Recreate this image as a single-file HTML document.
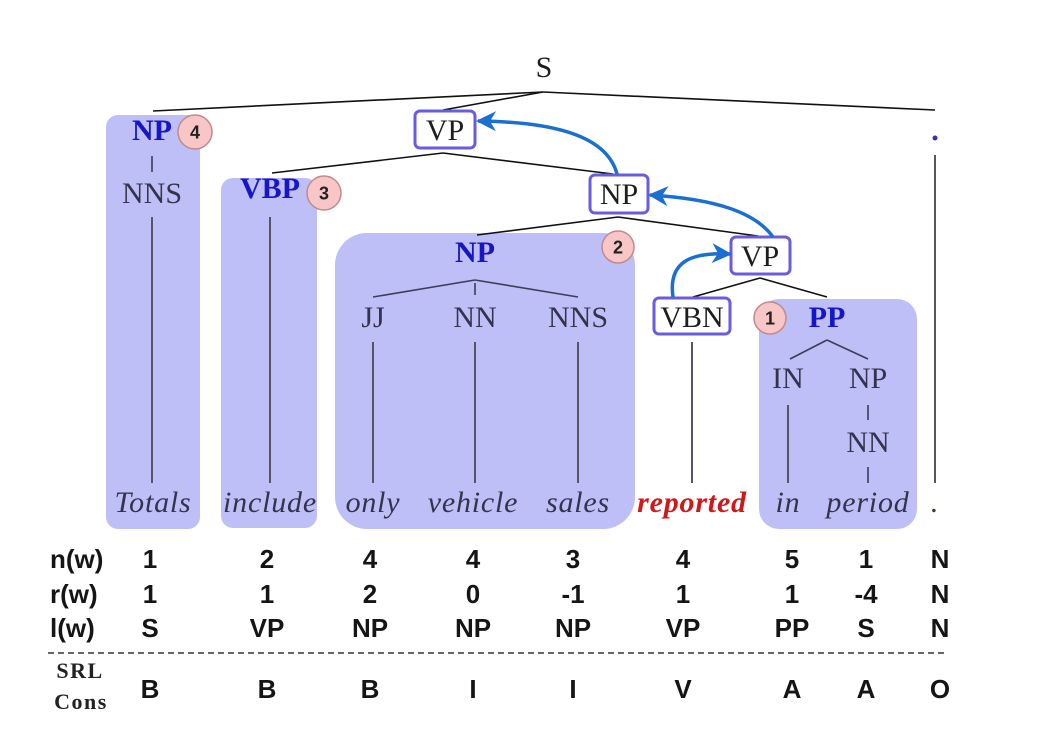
<!DOCTYPE html>
<html>
<head>
<meta charset="utf-8">
<style>
html,body{margin:0;padding:0;background:#fff;}
svg{display:block;}
.lab{font-family:"Liberation Serif",serif;font-size:30px;fill:#33334d;text-anchor:middle;}
.dlab{font-family:"Liberation Serif",serif;font-size:30px;fill:#1e1e1e;text-anchor:middle;}
.blab{font-family:"Liberation Serif",serif;font-size:30px;fill:#1616c8;font-weight:bold;text-anchor:middle;}
.wd{font-family:"Liberation Serif",serif;font-size:30px;font-style:italic;fill:#33334d;text-anchor:middle;letter-spacing:0.8px;}
.tb{font-family:"Liberation Sans",sans-serif;font-size:26px;font-weight:bold;fill:#151515;text-anchor:middle;}
.tl{font-family:"Liberation Sans",sans-serif;font-size:26px;font-weight:bold;fill:#151515;}
.num{font-family:"Liberation Sans",sans-serif;font-size:18px;font-weight:bold;fill:#222;text-anchor:middle;}
</style>
</head>
<body>
<svg width="1037" height="750" viewBox="0 0 1037 750" xmlns="http://www.w3.org/2000/svg">
<defs>
<marker id="ah" markerUnits="userSpaceOnUse" markerWidth="22" markerHeight="22" refX="18" refY="10" orient="auto">
<path d="M0,0 L20,10 L0,20 L6,10 z" fill="#1a6fd0"/>
</marker>
</defs>

<!-- shaded regions -->
<rect x="106" y="115" width="94" height="414" rx="12" fill="#bfbff7"/>
<rect x="221" y="178" width="96" height="350" rx="12" fill="#bfbff7"/>
<rect x="335" y="233" width="300" height="296" rx="32" fill="#bfbff7"/>
<rect x="759" y="299" width="158" height="230" rx="20" fill="#bfbff7"/>

<!-- top tree lines -->
<g stroke="#111" stroke-width="1.6" fill="none">
<line x1="543" y1="92" x2="153" y2="111"/>
<line x1="543" y1="92" x2="443" y2="110"/>
<line x1="543" y1="92" x2="935" y2="110"/>
<line x1="443" y1="153" x2="272" y2="173"/>
<line x1="443" y1="153" x2="613" y2="174"/>
<line x1="618" y1="217" x2="477" y2="235"/>
<line x1="618" y1="217" x2="758" y2="236"/>
<line x1="760" y1="278" x2="693" y2="297"/>
<line x1="760" y1="278" x2="827" y2="297"/>
</g>
<!-- inner lines -->
<g stroke="#3c3c5c" stroke-width="1.6" fill="none">
<line x1="475" y1="280" x2="373" y2="297"/>
<line x1="475" y1="280" x2="578" y2="297"/>
<line x1="475" y1="283" x2="475" y2="295"/>
<line x1="827" y1="340" x2="790" y2="359"/>
<line x1="827" y1="340" x2="868" y2="359"/>
<line x1="152" y1="156" x2="152" y2="172"/>
<line x1="868" y1="405" x2="868" y2="420"/>
<line x1="868" y1="467" x2="868" y2="483"/>
</g>
<g stroke="#555566" stroke-width="2" fill="none">
<line x1="152" y1="217" x2="152" y2="483"/>
<line x1="270" y1="217" x2="270" y2="483"/>
<line x1="373" y1="342" x2="373" y2="483"/>
<line x1="475" y1="342" x2="475" y2="483"/>
<line x1="578" y1="342" x2="578" y2="483"/>
<line x1="692" y1="342" x2="692" y2="483"/>
<line x1="788" y1="405" x2="788" y2="483"/>
<line x1="935" y1="155" x2="935" y2="483"/>
</g>
<circle cx="935" cy="138" r="2.5" fill="#3030c0"/>

<!-- node boxes -->
<g fill="#fff" stroke="#6a5ce0" stroke-width="3">
<rect x="415" y="111" width="60" height="37" rx="5"/>
<rect x="590" y="175" width="58" height="38" rx="5"/>
<rect x="731" y="237" width="59" height="37" rx="5"/>
<rect x="654" y="298" width="76" height="36" rx="5"/>
</g>

<!-- arrows -->
<g stroke="#1a6fd0" stroke-width="3.5" fill="none" marker-end="url(#ah)">
<path d="M617,174 C608,140 565,122 478,121"/>
<path d="M773,237 C755,212 715,199 650,195"/>
<path d="M673,297 C668,262 690,252 730,254"/>
</g>

<!-- circles -->
<g fill="#f8c6c6" stroke="#c08a8a" stroke-width="1.5">
<circle cx="195" cy="132" r="17"/>
<circle cx="324" cy="193" r="17"/>
<circle cx="618" cy="247" r="16"/>
<circle cx="770" cy="318" r="16"/>
</g>
<text class="num" x="195" y="138.5">4</text>
<text class="num" x="324" y="199.5">3</text>
<text class="num" x="618" y="253.5">2</text>
<text class="num" x="770" y="324.5">1</text>

<!-- labels -->
<text class="dlab" x="544" y="77">S</text>
<text class="blab" x="152" y="140">NP</text>
<text class="lab" x="152" y="203">NNS</text>
<text class="dlab" x="445" y="140">VP</text>
<text class="blab" x="270" y="198">VBP</text>
<text class="dlab" x="619" y="204">NP</text>
<text class="blab" x="475" y="262">NP</text>
<text class="dlab" x="760" y="266">VP</text>
<text class="lab" x="373" y="327">JJ</text>
<text class="lab" x="475" y="327">NN</text>
<text class="lab" x="578" y="327">NNS</text>
<text class="dlab" x="692" y="327">VBN</text>
<text class="blab" x="827" y="327">PP</text>
<text class="lab" x="788" y="388">IN</text>
<text class="lab" x="868" y="388">NP</text>
<text class="lab" x="868" y="452">NN</text>

<!-- words -->
<text class="wd" x="153" y="512">Totals</text>
<text class="wd" x="270" y="512">include</text>
<text class="wd" x="373" y="512">only</text>
<text class="wd" x="473" y="512">vehicle</text>
<text class="wd" x="578" y="512">sales</text>
<text class="wd" x="692" y="512" style="fill:#d01818;font-weight:bold;">reported</text>
<text class="wd" x="788" y="512">in</text>
<text class="wd" x="868" y="512">period</text>
<text class="wd" x="935" y="512">.</text>

<!-- table -->
<text class="tl" x="50" y="568">n(w)</text>
<text class="tl" x="50" y="603">r(w)</text>
<text class="tl" x="50" y="637">l(w)</text>

<text class="tb" x="150" y="568">1</text>
<text class="tb" x="267" y="568">2</text>
<text class="tb" x="370" y="568">4</text>
<text class="tb" x="473" y="568">4</text>
<text class="tb" x="573" y="568">3</text>
<text class="tb" x="683" y="568">4</text>
<text class="tb" x="792" y="568">5</text>
<text class="tb" x="866" y="568">1</text>
<text class="tb" x="940" y="568">N</text>

<text class="tb" x="150" y="603">1</text>
<text class="tb" x="267" y="603">1</text>
<text class="tb" x="370" y="603">2</text>
<text class="tb" x="473" y="603">0</text>
<text class="tb" x="573" y="603">-1</text>
<text class="tb" x="683" y="603">1</text>
<text class="tb" x="792" y="603">1</text>
<text class="tb" x="866" y="603">-4</text>
<text class="tb" x="940" y="603">N</text>

<text class="tb" x="150" y="637">S</text>
<text class="tb" x="267" y="637">VP</text>
<text class="tb" x="370" y="637">NP</text>
<text class="tb" x="473" y="637">NP</text>
<text class="tb" x="573" y="637">NP</text>
<text class="tb" x="683" y="637">VP</text>
<text class="tb" x="792" y="637">PP</text>
<text class="tb" x="866" y="637">S</text>
<text class="tb" x="940" y="637">N</text>

<text class="tb" x="150" y="698">B</text>
<text class="tb" x="267" y="698">B</text>
<text class="tb" x="370" y="698">B</text>
<text class="tb" x="473" y="698">I</text>
<text class="tb" x="573" y="698">I</text>
<text class="tb" x="683" y="698">V</text>
<text class="tb" x="792" y="698">A</text>
<text class="tb" x="866" y="698">A</text>
<text class="tb" x="940" y="698">O</text>

<line x1="48" y1="653" x2="948" y2="653" stroke="#333" stroke-width="1.5" stroke-dasharray="6,4"/>

<text x="80" y="678" text-anchor="middle" style="font-family:'Liberation Serif',serif;font-size:22px;font-weight:bold;letter-spacing:1.5px;fill:#222">SRL</text>
<text x="81" y="709" text-anchor="middle" style="font-family:'Liberation Serif',serif;font-size:22px;font-weight:bold;letter-spacing:1.5px;fill:#222">Cons</text>
</svg>
</body>
</html>
